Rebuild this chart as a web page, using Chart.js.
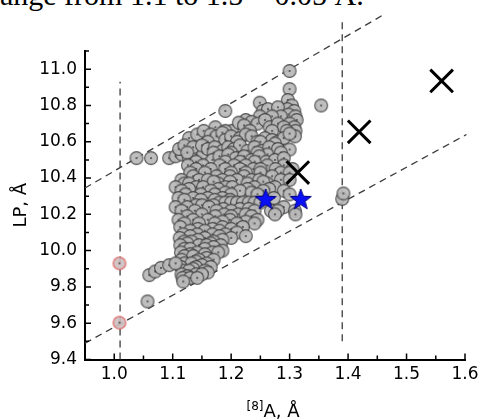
<!DOCTYPE html>
<html>
<head>
<meta charset="utf-8">
<script src="https://cdn.jsdelivr.net/npm/chart.js@4"></script>
<style>
    html, body { margin: 0; padding: 0; background: #fff; overflow: hidden; }
    #wrap { position: relative; width: 484px; height: 420px; overflow: hidden; }
    #caption {
        position: absolute; left: -10px; top: -20px;
        font: 30px/30px 'Liberation Serif', 'Times New Roman', serif;
        white-space: nowrap; color: #000;
    }
    canvas { position: absolute; left: 0; top: 0; }
</style>
</head>
<body>
<div id="wrap">
    <div id="caption">range from 1.1 to 1.5 ~ 0.05 Å.</div>
    <canvas id="grafico" width="484" height="420"></canvas>
</div>
<script>
// tick values
const xTicks = [1.0, 1.1, 1.2, 1.3, 1.4, 1.5, 1.6];
const xMinorTicks = [0.95, 1.05, 1.15, 1.25, 1.35, 1.45, 1.55];
const yTicks = [9.4, 9.6, 9.8, 10.0, 10.2, 10.4, 10.6, 10.8, 11.0];
const yMinorTicks = [9.5, 9.7, 9.9, 10.1, 10.3, 10.5, 10.7, 10.9, 11.1];

// grey cloud ([8]A, LP)
const grayPoints = [
    [1.038, 10.51], [1.063, 10.51], [1.094, 10.51], [1.105, 10.52], [1.116, 10.53], [1.128, 10.51], [1.14, 10.53], [1.152, 10.54],
    [1.300, 10.99], [1.300, 10.89], [1.354, 10.80], [1.249, 10.815], [1.297, 10.83], [1.304, 10.80], [1.296, 10.78], [1.308, 10.77],
    [1.19, 10.77], [1.254, 10.77], [1.263, 10.78], [1.28, 10.79], [1.298, 10.75], [1.31, 10.74], [1.312, 10.72], [1.249, 10.74],
    [1.285, 10.74], [1.27, 10.74], [1.225, 10.72],
    [1.201, 10.66], [1.213, 10.705], [1.173, 10.68], [1.235, 10.71], [1.245, 10.70], [1.258, 10.72], [1.266, 10.68], [1.28, 10.70],
    [1.30, 10.70], [1.308, 10.68], [1.31, 10.66], [1.29, 10.68], [1.222, 10.69],
    [1.19, 10.66], [1.232, 10.66], [1.27, 10.66], [1.295, 10.66],
    [1.128, 10.62], [1.142, 10.64], [1.153, 10.66], [1.165, 10.64], [1.175, 10.63], [1.185, 10.65], [1.19, 10.61], [1.20, 10.63],
    [1.215, 10.62], [1.225, 10.64], [1.235, 10.63], [1.245, 10.60], [1.258, 10.62], [1.27, 10.61], [1.28, 10.60], [1.29, 10.62],
    [1.309, 10.63], [1.30, 10.645],
    [1.16, 10.60], [1.21, 10.60], [1.25, 10.60], [1.275, 10.59],
    [1.111, 10.56], [1.12, 10.58], [1.135, 10.57], [1.15, 10.58], [1.16, 10.56], [1.172, 10.57], [1.185, 10.55], [1.195, 10.57],
    [1.205, 10.56], [1.215, 10.58], [1.228, 10.55], [1.24, 10.57], [1.252, 10.55], [1.265, 10.57], [1.28, 10.56], [1.30, 10.557],
    [1.262, 10.53], [1.125, 10.54], [1.17, 10.54], [1.20, 10.54], [1.245, 10.54], [1.285, 10.54],
    [1.168, 10.50], [1.18, 10.52], [1.195, 10.53], [1.208, 10.51], [1.222, 10.52], [1.235, 10.50], [1.248, 10.52], [1.26, 10.49],
    [1.275, 10.50], [1.29, 10.51], [1.14, 10.49], [1.19, 10.49], [1.215, 10.49], [1.24, 10.49],
    [1.126, 10.47], [1.152, 10.47], [1.18, 10.47], [1.205, 10.47], [1.225, 10.47], [1.262, 10.47], [1.29, 10.47],
    [1.14, 10.45], [1.165, 10.45], [1.19, 10.45], [1.215, 10.45], [1.238, 10.45], [1.25, 10.45], [1.276, 10.45], [1.305, 10.45],
    [1.25, 10.43], [1.285, 10.43], [1.13, 10.43], [1.155, 10.43], [1.20, 10.43], [1.225, 10.43], [1.30, 10.43],
    [1.135, 10.41], [1.175, 10.41], [1.198, 10.41], [1.222, 10.41], [1.27, 10.41],
    [1.115, 10.39], [1.145, 10.39], [1.16, 10.39], [1.185, 10.39], [1.21, 10.39], [1.235, 10.39], [1.248, 10.39], [1.285, 10.39], [1.30, 10.39],
    [1.12, 10.37], [1.128, 10.37], [1.178, 10.37], [1.228, 10.37], [1.262, 10.37], [1.17, 10.38], [1.198, 10.38], [1.255, 10.38],
    [1.105, 10.35], [1.14, 10.35], [1.152, 10.35], [1.19, 10.35], [1.202, 10.35], [1.24, 10.35], [1.275, 10.35],
    [1.128, 10.34], [1.178, 10.34], [1.228, 10.34], [1.265, 10.34],
    [1.115, 10.33], [1.165, 10.33], [1.215, 10.33], [1.255, 10.33], [1.29, 10.33], [1.19, 10.32], [1.235, 10.32],
    [1.122, 10.31], [1.148, 10.31], [1.172, 10.31], [1.20, 10.31], [1.30, 10.31], [1.245, 10.31],
    [1.11, 10.29], [1.135, 10.29], [1.16, 10.29], [1.185, 10.29], [1.273, 10.29],
    [1.12, 10.28], [1.148, 10.28], [1.172, 10.28], [1.198, 10.28],
    [1.18, 10.265], [1.19, 10.265], [1.20, 10.265], [1.21, 10.265], [1.22, 10.265], [1.23, 10.265], [1.24, 10.265], [1.25, 10.265],
    [1.14, 10.25], [1.15, 10.25], [1.17, 10.25],
    [1.105, 10.24], [1.125, 10.24], [1.162, 10.24], [1.29, 10.24],
    [1.187, 10.23], [1.215, 10.23], [1.23, 10.23],
    [1.115, 10.22], [1.138, 10.22], [1.175, 10.22], [1.20, 10.22], [1.24, 10.22], [1.268, 10.22], [1.28, 10.22], [1.309, 10.22],
    [1.15, 10.20], [1.188, 10.20], [1.212, 10.20], [1.225, 10.20], [1.275, 10.20], [1.31, 10.20],
    [1.125, 10.19], [1.173, 10.19], [1.20, 10.19], [1.235, 10.19],
    [1.11, 10.17], [1.135, 10.17], [1.16, 10.17], [1.198, 10.17], [1.245, 10.17], [1.185, 10.16], [1.225, 10.16],
    [1.12, 10.15], [1.145, 10.15], [1.172, 10.15], [1.21, 10.15], [1.24, 10.15],
    [1.113, 10.13], [1.185, 10.13], [1.22, 10.13], [1.143, 10.12], [1.168, 10.12], [1.20, 10.12],
    [1.13, 10.11], [1.155, 10.11], [1.18, 10.11], [1.21, 10.10],
    [1.118, 10.09], [1.142, 10.09], [1.168, 10.09], [1.19, 10.09], [1.225, 10.08], [1.13, 10.08], [1.18, 10.08],
    [1.112, 10.07], [1.155, 10.07], [1.20, 10.07], [1.143, 10.06], [1.185, 10.06],
    [1.12, 10.05], [1.132, 10.05], [1.17, 10.05], [1.125, 10.04], [1.165, 10.04],
    [1.113, 10.03], [1.145, 10.03], [1.158, 10.03], [1.182, 10.03], [1.17, 10.02],
    [1.12, 10.01], [1.13, 10.01], [1.155, 10.01], [1.185, 10.00],
    [1.114, 9.99], [1.142, 9.99], [1.168, 9.99], [1.178, 9.99], [1.13, 9.98], [1.155, 9.98],
    [1.12, 9.97], [1.135, 9.97], [1.158, 9.96],
    [1.115, 9.95], [1.145, 9.95], [1.17, 9.95], [1.14, 9.94],
    [1.12, 9.93], [1.132, 9.93], [1.158, 9.93], [1.15, 9.92],
    [1.114, 9.91], [1.14, 9.91], [1.165, 9.91], [1.135, 9.90],
    [1.118, 9.89], [1.128, 9.89], [1.155, 9.89], [1.16, 9.88],
    [1.115, 9.87], [1.14, 9.87], [1.15, 9.87], [1.125, 9.86],
    [1.117, 9.85], [1.13, 9.85], [1.142, 9.85],
    [1.118, 9.83],
    [1.057, 9.72], [1.06, 9.865], [1.07, 9.885], [1.08, 9.905], [1.094, 9.92], [1.105, 9.93],
    [1.39, 10.285], [1.392, 10.315]
];
const redPoints = [[1.009, 9.93], [1.009, 9.603]];
const starPoints = [[1.259, 10.285], [1.319, 10.285]];
const crossPoints = [[1.314, 10.43], [1.419, 10.655], [1.560, 10.935]];

// dashed guide lines
const upperGuide = [[0.95, 10.345], [1.458, 11.295]];
const lowerGuide = [[0.95, 9.49], [1.6025, 10.64]];
const leftGuide = [[1.01, 9.4], [1.01, 10.93]];
const rightGuide = [[1.39, 9.5], [1.39, 11.27]];

const FONT = "'DejaVu Sans', 'Liberation Sans', Arial, sans-serif";

function toXY(pts) {
    return pts.map(p => ({ x: p[0], y: p[1] }));
}

// circle with the little centre dot (Origin style)
function makeDotCircle(r, fill, stroke) {
    const c = document.createElement('canvas');
    const size = Math.ceil(r * 2 + 3);
    c.width = c.height = size;
    const g = c.getContext('2d');
    g.beginPath();
    g.arc(size / 2, size / 2, r, 0, Math.PI * 2);
    g.fillStyle = fill;
    g.fill();
    g.lineWidth = 1.1;
    g.strokeStyle = stroke;
    g.stroke();
    g.beginPath();
    g.arc(size / 2, size / 2, 0.9, 0, Math.PI * 2);
    g.fillStyle = '#3a3a3a';
    g.fill();
    return c;
}

function makeStar(r) {
    const c = document.createElement('canvas');
    const size = Math.ceil(r * 2 + 4);
    c.width = c.height = size;
    const g = c.getContext('2d');
    g.beginPath();
    for (let i = 0; i < 10; i++) {
        const rad = i % 2 === 0 ? r : r * 0.42;
        const a = -Math.PI / 2 + i * Math.PI / 5;
        const px = size / 2 + rad * Math.cos(a);
        const py = size / 2 + 1 + rad * Math.sin(a);
        if (i === 0) g.moveTo(px, py); else g.lineTo(px, py);
    }
    g.closePath();
    g.fillStyle = '#0a10f5';
    g.fill();
    g.lineWidth = 1;
    g.strokeStyle = '#00007a';
    g.stroke();
    return c;
}

function guide(pts) {
    return {
        data: toXY(pts),
        showLine: true,
        pointRadius: 0,
        borderColor: '#3c3c3c',
        borderWidth: 1.3,
        borderDash: [7, 5],
        clip: false
    };
}

// inward ticks + x title with superscript
const axisDecor = {
    id: 'axisDecor',
    afterDraw(chart) {
        const { ctx, scales: { x, y } } = chart;
        const bottom = y.getPixelForValue(y.min);
        const left = x.getPixelForValue(x.min);
        ctx.save();
        ctx.strokeStyle = '#000';
        ctx.lineWidth = 1.5;
        ctx.beginPath();
        xTicks.forEach(v => {
            const px = x.getPixelForValue(v);
            ctx.moveTo(px, bottom); ctx.lineTo(px, bottom - 6);
        });
        xMinorTicks.forEach(v => {
            const px = x.getPixelForValue(v);
            ctx.moveTo(px, bottom); ctx.lineTo(px, bottom - 4);
        });
        yTicks.forEach(v => {
            const py = y.getPixelForValue(v);
            ctx.moveTo(left, py); ctx.lineTo(left + 6, py);
        });
        yMinorTicks.forEach(v => {
            const py = y.getPixelForValue(v);
            ctx.moveTo(left, py); ctx.lineTo(left + 4, py);
        });
        ctx.stroke();

        ctx.fillStyle = '#000';
        ctx.textBaseline = 'alphabetic';
        ctx.textAlign = 'left';
        ctx.font = '12px ' + FONT;
        const sup = '[8]';
        const supW = ctx.measureText(sup).width;
        ctx.font = '18px ' + FONT;
        const main = 'A, Å';
        const mainW = ctx.measureText(main).width;
        const cx = (x.left + x.right) / 2 - 2;
        const start = cx - (supW + mainW) / 2;
        ctx.fillText(main, start + supW, 417);
        ctx.font = '12px ' + FONT;
        ctx.fillText(sup, start, 410);
        ctx.restore();
    }
};

new Chart(document.getElementById('grafico'), {
    type: 'scatter',
    data: {
        datasets: [
            {
                data: toXY(crossPoints),
                pointStyle: 'crossRot',
                pointRadius: 16,
                borderColor: '#000',
                borderWidth: 3
            },
            {
                data: toXY(starPoints),
                pointStyle: makeStar(11),
                pointRadius: 10
            },
            {
                data: toXY(redPoints),
                pointStyle: makeDotCircle(6.3, 'rgba(205,190,190,0.9)', '#e05a5a'),
                pointRadius: 6
            },
            {
                data: toXY(grayPoints),
                pointStyle: makeDotCircle(6.4, 'rgba(185,185,185,0.92)', 'rgba(55,55,55,0.85)'),
                pointRadius: 6
            },
            guide(upperGuide),
            guide(lowerGuide),
            guide(leftGuide),
            guide(rightGuide)
        ]
    },
    options: {
        responsive: false,
        animation: false,
        layout: { padding: { left: 0, right: 16, top: 51, bottom: 0 } },
        plugins: {
            legend: { display: false },
            tooltip: { enabled: false }
        },
        scales: {
            x: {
                type: 'linear',
                min: 0.95,
                max: 1.6,
                afterBuildTicks: s => { s.ticks = xTicks.map(v => ({ value: v })); },
                afterFit: s => { s.height = 60.5; },
                grid: { display: false, drawTicks: false },
                border: { color: '#000', width: 2 },
                ticks: {
                    autoSkip: false,
                    maxRotation: 0,
                    padding: 5,
                    color: '#000',
                    font: { family: FONT, size: 17 },
                    callback: v => v.toFixed(1)
                }
            },
            y: {
                type: 'linear',
                min: 9.4,
                max: 11.1,
                afterBuildTicks: s => { s.ticks = yTicks.map(v => ({ value: v })); },
                afterFit: s => { s.width = 85; },
                grid: { display: false, drawTicks: false },
                border: { color: '#000', width: 2 },
                ticks: {
                    autoSkip: false,
                    padding: 8,
                    color: '#000',
                    font: { family: FONT, size: 17 },
                    callback: v => v.toFixed(1)
                },
                title: {
                    display: true,
                    text: 'LP, Å',
                    color: '#000',
                    font: { family: FONT, size: 18 },
                    padding: { top: 11, bottom: 0 }
                }
            }
        }
    },
    plugins: [axisDecor]
});
</script>
</body>
</html>
